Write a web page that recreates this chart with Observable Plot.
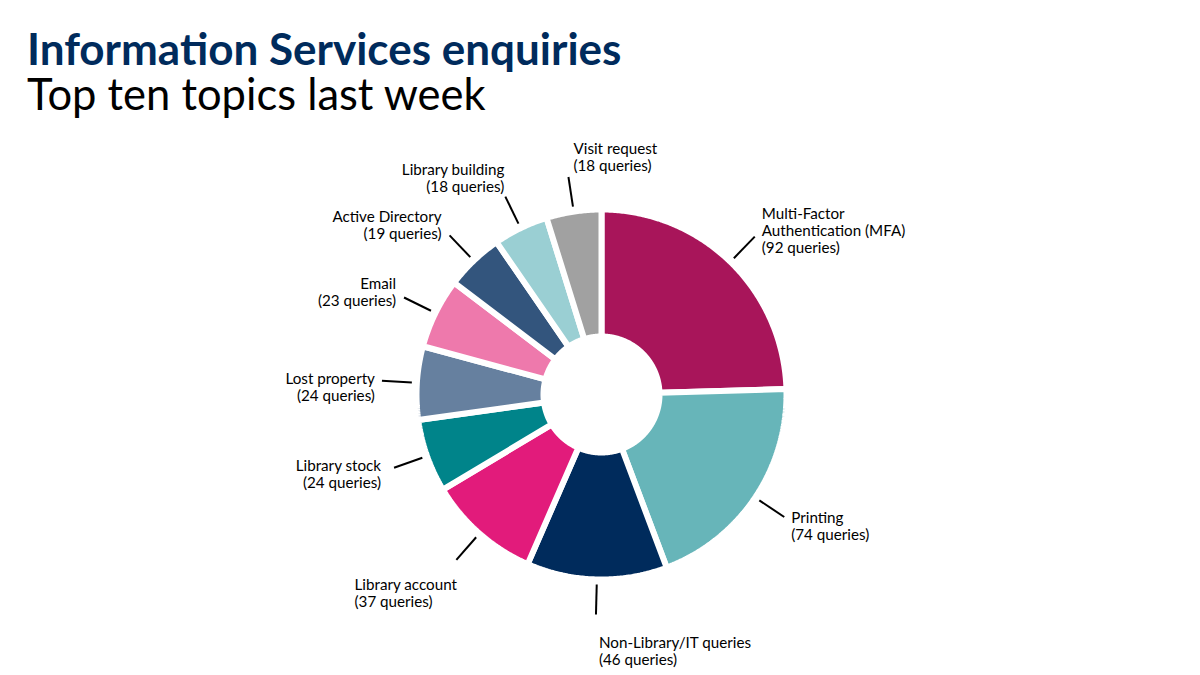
<!DOCTYPE html>
<html><head><meta charset="utf-8">
<script src="https://cdn.jsdelivr.net/npm/d3@7"></script>
<script src="https://cdn.jsdelivr.net/npm/@observablehq/plot@0.6"></script>
<style>
html,body{margin:0;padding:0;background:#fff}
body{width:1200px;height:675px;overflow:hidden;font-family:Lato,"Open Sans",sans-serif}
#head{height:130px;padding-left:27px;padding-top:26px;box-sizing:border-box;white-space:pre;font-size:43.5px;line-height:45px;font-weight:400;color:#000}
#head::first-line{font-size:44px;font-weight:700;color:#002b5c}
#chart svg{display:block}
</style></head><body>
<div id="head"></div>
<div id="chart"></div>
<script>
// ---- text ----
const title = "Information Services enquiries";
const subtitle = "Top ten topics last week";
// ---- data ----
const topics = ["Multi-Factor Authentication (MFA)","Printing","Non-Library/IT queries","Library account","Library stock","Lost property","Email","Active Directory","Library building","Visit request"];
const labelNames = ["Multi-Factor\nAuthentication (MFA)","Printing","Non-Library/IT queries","Library account","Library stock","Lost property","Email","Active Directory","Library building","Visit request"];
const queries = [92,74,46,37,24,24,23,19,18,18];
const colors = ["#a8155a","#67b5b9","#002b5c","#e21b7b","#00848a","#66809f","#ee79ac","#33557d","#9acfd3","#a1a1a1"];

document.getElementById("head").textContent = title + "\n" + subtitle;

// ---- layout (pixels) ----
const W = 1200, H = 545, cx = 601, cy = 264;
const R = 182, r0 = 61, gap = 6;
const leadIn = 190, leadOut = 220;
const fontSize = 15.2, lineH = 17;
// label placement relative to leader end: [anchor, dx, dy]
const labelPlace = [["start",7,-6],["start",7,9],["start",3,37],["flush",1,33],["end",-13,6],["end",-7,6],["end",-8,-5],["end",-8,-10],["end",-1,-19],["start",5,-20]];

const data = topics.map((t,i)=>({topic:t, name:labelNames[i], q:queries[i]}));
const arcs = d3.pie().sort(null).value(d=>d.q)(data);

// slice outlines, in pixel-unit data coordinates centred on the pie
const pts = [];
for (const a of arcs) {
  const n = Math.max(8, Math.ceil((a.endAngle - a.startAngle) / (Math.PI/360)));
  const ro = R + gap/2, ri = r0 - gap/2;
  for (let k=0;k<=n;k++){ const t=a.startAngle+(a.endAngle-a.startAngle)*k/n; pts.push({topic:a.data.topic,x:Math.sin(t)*ro,y:Math.cos(t)*ro}); }
  for (let k=n;k>=0;k--){ const t=a.startAngle+(a.endAngle-a.startAngle)*k/n; pts.push({topic:a.data.topic,x:Math.sin(t)*ri,y:Math.cos(t)*ri}); }
}

const ctx = document.createElement("canvas").getContext("2d");
ctx.font = `${fontSize}px Lato`;
const labels = arcs.map((a,i)=>{
  const m = (a.startAngle + a.endAngle)/2;
  const ex = Math.sin(m)*leadOut, ey = Math.cos(m)*leadOut;
  const text = a.data.name + "\n(" + a.data.q + " queries)";
  let [anchor, dx, dy] = labelPlace[i];
  if (anchor === "flush") {
    const w = Math.max(...text.split("\n").map(s=>ctx.measureText(s).width));
    anchor = "start"; dx = dx - w;
  }
  return {text, anchor, x: ex + dx, y: ey - dy, m};
});

const chart = Plot.plot({
  width: W, height: H,
  margin: 0,
  x: {domain: [-cx, W - cx], axis: null},
  y: {domain: [-(H - cy), cy], axis: null},
  color: {domain: topics, range: colors},
  style: {fontFamily: "Lato, 'Open Sans', sans-serif", background: "white"},
  marks: [
    Plot.line(pts, {x:"x", y:"y", z:"topic", fill:"topic", stroke:"white", strokeWidth:gap, strokeLinejoin:"miter", curve:"linear-closed"}),
    Plot.link(arcs, {
      x1: a=>Math.sin((a.startAngle+a.endAngle)/2)*leadIn,
      y1: a=>Math.cos((a.startAngle+a.endAngle)/2)*leadIn,
      x2: a=>Math.sin((a.startAngle+a.endAngle)/2)*leadOut,
      y2: a=>Math.cos((a.startAngle+a.endAngle)/2)*leadOut,
      stroke:"#000", strokeWidth:2
    }),
    Plot.text(labels.filter(d=>d.anchor==="start"), {x:"x", y:"y", text:"text", textAnchor:"start", lineAnchor:"middle", lineHeight: lineH/fontSize, fontSize, fill:"#000"}),
    Plot.text(labels.filter(d=>d.anchor==="end"), {x:"x", y:"y", text:"text", textAnchor:"end", lineAnchor:"middle", lineHeight: lineH/fontSize, fontSize, fill:"#000"})
  ]
});
document.getElementById("chart").appendChild(chart);
</script>
</body></html>
